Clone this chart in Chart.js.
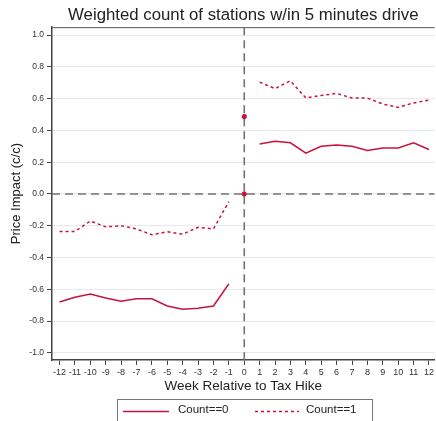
<!DOCTYPE html>
<html>
<head>
<meta charset="utf-8">
<script src="https://cdn.jsdelivr.net/npm/chart.js@4"></script>
<style>
  body { margin: 0; background: #fff; }
  #wrap { position: relative; width: 436px; height: 421px; overflow: hidden; }
  #legend {
    position: absolute; left: 117px; top: 399px; width: 256px; height: 30px;
    border: 1px solid #777; box-sizing: border-box;
    font-family: "Liberation Sans", Arial, sans-serif; font-size: 11.5px; color: #222;
  }
  #legend span { position: absolute; top: 3px; }
  #legend svg { position: absolute; top: 10px; }
</style>
</head>
<body>
<div id="wrap">
  <canvas id="myChart" width="436" height="421"></canvas>
  <div id="legend">
    <svg style="left:5px" width="46" height="3"><line x1="0" y1="1.5" x2="46" y2="1.5" stroke="#c8143c" stroke-width="1.5"/></svg>
    <span style="left:60px">Count==0</span>
    <svg style="left:137px" width="44" height="3"><line x1="0" y1="1.5" x2="44" y2="1.5" stroke="#c8143c" stroke-width="1.5" stroke-dasharray="3,3"/></svg>
    <span style="left:188px">Count==1</span>
  </div>
</div>
<script>
// weeks relative to the tax hike
const semanas = [-12,-11,-10,-9,-8,-7,-6,-5,-4,-3,-2,-1,0,1,2,3,4,5,6,7,8,9,10,11,12];
const count0 = [-0.68,-0.65,-0.63,-0.655,-0.675,-0.66,-0.66,-0.705,-0.725,-0.72,-0.705,-0.565,
                0.0,
                0.315,0.332,0.322,0.257,0.30,0.309,0.30,0.274,0.29,0.29,0.322,0.28];
const count1 = [-0.236,-0.236,-0.17,-0.207,-0.20,-0.22,-0.257,-0.238,-0.253,-0.21,-0.22,-0.048,
                0.487,
                0.704,0.663,0.713,0.604,0.62,0.633,0.604,0.604,0.566,0.545,0.573,0.591];
const yTicks = [-1.0,-0.8,-0.6,-0.4,-0.2,0.0,0.2,0.4,0.6,0.8,1.0];

const rojo = '#c8143c';
const fuente = "'Liberation Sans', Arial, sans-serif";

function puntos(valores){
    return semanas.map((s, i) => ({x: s, y: valores[i]}));
}

// no line into or out of week 0, only a dot there
function cortar(ctx){
    return (ctx.p0.parsed.x === 0 || ctx.p1.parsed.x === 0) ? 'rgba(0,0,0,0)' : rojo;
}

const lineasRef = {
    id: 'lineasRef',
    beforeDatasetsDraw(chart){
        const c = chart.ctx, a = chart.chartArea;
        const x0 = chart.scales.x.getPixelForValue(0);
        const y0 = chart.scales.y.getPixelForValue(0);
        c.save();
        // top border
        c.strokeStyle = '#555';
        c.lineWidth = 1;
        c.beginPath(); c.moveTo(a.left, a.top + 0.5); c.lineTo(a.right, a.top + 0.5); c.stroke();
        c.strokeStyle = '#737373';
        c.lineWidth = 1.6;
        c.setLineDash([8, 5]);
        c.beginPath(); c.moveTo(a.left, y0); c.lineTo(a.right, y0); c.stroke();
        c.beginPath(); c.moveTo(x0, a.top); c.lineTo(x0, a.bottom); c.stroke();
        c.restore();
    }
};

let ctx = document.getElementById('myChart').getContext('2d');
const myChart = new Chart(ctx, {
    type: 'line',
    data: {
        datasets: [{
            label: 'Count==0',
            data: puntos(count0),
            borderColor: rojo,
            backgroundColor: rojo,
            borderWidth: 1.5,
            tension: 0,
            pointRadius: (c) => semanas[c.dataIndex] === 0 ? 2.2 : 0,
            pointBorderWidth: 1,
            pointBorderColor: rojo,
            segment: { borderColor: cortar }
        }, {
            label: 'Count==1',
            data: puntos(count1),
            borderColor: rojo,
            backgroundColor: rojo,
            borderWidth: 1.5,
            borderDash: [3, 3],
            tension: 0,
            pointRadius: (c) => semanas[c.dataIndex] === 0 ? 2.2 : 0,
            pointBorderWidth: 1,
            pointBorderColor: rojo,
            segment: { borderColor: cortar }
        }]
    },
    options: {
        responsive: false,
        animation: false,
        layout: { padding: { left: 0, right: 0, top: 0, bottom: 27 } },
        plugins: {
            legend: { display: false },
            tooltip: { enabled: false },
            title: {
                display: true,
                text: 'Weighted count of stations w/in 5 minutes drive',
                fullSize: false,
                color: '#222',
                font: { family: fuente, size: 16.8, weight: 'normal' },
                padding: { top: 5, bottom: 2 }
            }
        },
        scales: {
            x: {
                type: 'linear',
                min: -12.49,
                max: 12.36,
                afterFit: (s) => { s.height = 34; },
                afterBuildTicks: (s) => { s.ticks = semanas.map(v => ({value: v})); },
                grid: { drawOnChartArea: false, tickLength: 5, tickColor: '#444', tickWidth: 1 },
                border: { color: '#444', width: 1.5 },
                ticks: { color: '#333', font: { family: fuente, size: 9 }, padding: 2, maxRotation: 0, autoSkip: false },
                title: { display: true, text: 'Week Relative to Tax Hike', color: '#222',
                         font: { family: fuente, size: 13.5 }, padding: 0 }
            },
            y: {
                min: -1.045,
                max: 1.05,
                afterFit: (s) => { s.width = 52; },
                afterBuildTicks: (s) => { s.ticks = yTicks.map(v => ({value: v})); },
                grid: { color: '#e9e9e9', lineWidth: 1, tickLength: 5, tickColor: '#444', tickWidth: 1 },
                border: { color: '#444', width: 1.5 },
                ticks: { color: '#333', font: { family: fuente, size: 8.5 }, padding: 3,
                         callback: (v) => v.toFixed(1) },
                title: { display: true, text: 'Price Impact (c/c)', color: '#222',
                         font: { family: fuente, size: 13 }, padding: { top: 9, bottom: 0 } }
            }
        }
    },
    plugins: [lineasRef]
});
</script>
</body>
</html>
